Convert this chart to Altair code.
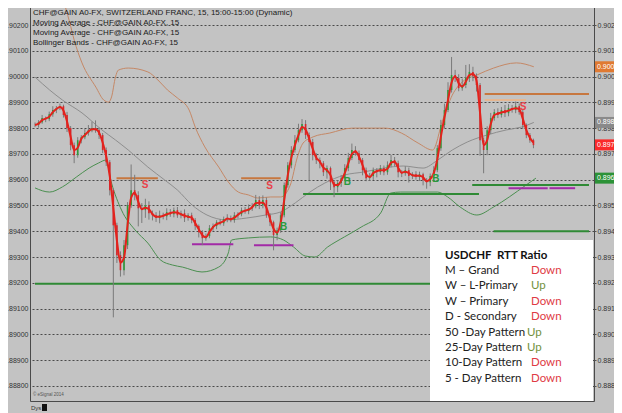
import altair as alt
import pandas as pd

# ---------------- data ----------------
closes = [
    0.89812, 0.89823, 0.89839, 0.89835, 0.89854, 0.89870, 0.89878, 0.89885, 0.89851, 0.89800,
    0.89734, 0.89695, 0.89753, 0.89765, 0.89781, 0.89792, 0.89800, 0.89792, 0.89773, 0.89715,
    0.89668, 0.89559, 0.89423, 0.89307, 0.89249, 0.89346, 0.89501, 0.89559, 0.89540, 0.89489,
    0.89482, 0.89501, 0.89470, 0.89462, 0.89451, 0.89462, 0.89458, 0.89474, 0.89466, 0.89482,
    0.89462, 0.89470, 0.89451, 0.89462, 0.89443, 0.89420, 0.89396, 0.89373, 0.89381, 0.89412,
    0.89420, 0.89435, 0.89431, 0.89447, 0.89451, 0.89443, 0.89462, 0.89466, 0.89482, 0.89478,
    0.89489, 0.89497, 0.89521, 0.89501, 0.89521, 0.89462, 0.89435, 0.89385, 0.89404, 0.89462,
    0.89579, 0.89656, 0.89715, 0.89753, 0.89792, 0.89816, 0.89773, 0.89746, 0.89695, 0.89676,
    0.89664, 0.89629, 0.89645, 0.89590, 0.89571, 0.89587, 0.89606, 0.89645, 0.89684, 0.89715,
    0.89703, 0.89676, 0.89637, 0.89606, 0.89614, 0.89637, 0.89629, 0.89645, 0.89629, 0.89656,
    0.89676, 0.89664, 0.89629, 0.89625, 0.89637, 0.89614, 0.89621, 0.89610, 0.89621, 0.89598,
    0.89590, 0.89614, 0.89637, 0.89722, 0.89812, 0.89870, 0.89948, 0.90006, 0.89994, 0.89955,
    0.89967, 0.89994, 0.90018, 0.90002, 0.89967, 0.89753, 0.89715, 0.89792, 0.89839, 0.89862,
    0.89851, 0.89870, 0.89858, 0.89878, 0.89870, 0.89885, 0.89862, 0.89812, 0.89773, 0.89753, 0.89734,
]
# wick extents above / below the candle body, in points (1e-5)
hi_ext = [
    10, 8, 12, 6, 10, 15, 8, 10, 6, 12,
    8, 10, 12, 8, 15, 20, 25, 30, 10, 8,
    10, 8, 6, 10, 15, 20, 12, 100, 60, 15,
    20, 25, 15, 10, 12, 18, 10, 15, 12, 10,
    12, 10, 15, 8, 10, 8, 6, 8, 10, 12,
    10, 8, 12, 10, 15, 10, 12, 8, 10, 12,
    15, 12, 20, 15, 18, 10, 8, 6, 10, 12,
    10, 12, 15, 20, 25, 19, 15, 10, 12, 8,
    10, 8, 10, 6, 8, 10, 12, 15, 20, 25,
    15, 10, 8, 10, 12, 10, 8, 12, 10, 15,
    20, 12, 10, 8, 15, 10, 8, 12, 10, 6,
    8, 10, 15, 12, 20, 25, 30, 70, 20, 15,
    25, 51, 30, 20, 10, 8, 10, 15, 20, 12,
    15, 12, 20, 15, 12, 18, 10, 8, 6, 8, 6,
]
lo_ext = [
    8, 10, 6, 12, 8, 10, 12, 8, 10, 15,
    20, 31, 10, 12, 8, 10, 8, 10, 15, 12,
    15, 20, 357, 30, 25, 20, 15, 10, 20, 70,
    50, 30, 25, 20, 15, 20, 12, 15, 10, 12,
    10, 12, 15, 10, 12, 15, 20, 27, 10, 8,
    10, 12, 8, 10, 12, 8, 10, 12, 8, 10,
    12, 10, 8, 15, 12, 10, 15, 59, 20, 10,
    8, 10, 12, 10, 8, 10, 15, 150, 20, 15,
    20, 15, 25, 30, 39, 20, 15, 10, 12, 8,
    10, 15, 20, 12, 10, 15, 20, 10, 12, 10,
    8, 12, 20, 15, 10, 25, 12, 10, 15, 20,
    25, 15, 10, 8, 10, 12, 8, 10, 15, 12,
    10, 12, 15, 20, 25, 60, 90, 20, 15, 10,
    12, 10, 15, 12, 10, 12, 10, 15, 12, 10, 12,
]

# slow moving average (grey)
ma_i = [0, 4.1, 7.7, 13.2, 18.8, 22.6, 26.2, 31.7, 36.4, 40.0, 44.1, 48.3, 53.8, 59.3, 64.8,
        69.0, 73.1, 77.2, 81.4, 86.9, 92.4, 97.9, 103.4, 109.0, 113.1, 117.2, 121.4, 126.9,
        132.4, 136.6, 140.1]
ma_v = [0.89998, 0.89948, 0.89909, 0.89859, 0.89793, 0.89754, 0.89715, 0.89649, 0.89599,
        0.89560, 0.89502, 0.89463, 0.89444, 0.89451, 0.89463, 0.89475, 0.89510, 0.89552,
        0.89587, 0.89618, 0.89630, 0.89645, 0.89653, 0.89645, 0.89676, 0.89715, 0.89746,
        0.89773, 0.89793, 0.89804, 0.89822]
# upper Bollinger band (orange)
up_i = [7.7, 9.7, 11.0, 13.2, 17.1, 19.3, 20.7, 21.5, 22.6, 23.4, 26.2, 31.7, 34.5, 37.2,
        40.0, 43.3, 45.0, 47.7, 51.6, 54.3, 57.1, 59.9, 62.6, 66.2, 69.0, 71.7, 73.7, 75.3,
        78.1, 82.8, 89.1, 98.5, 102.9, 107.6, 111.7, 114.5, 117.2, 120.0, 124.1, 128.8,
        135.2, 140.1]
up_v = [0.90309, 0.90212, 0.90142, 0.90053, 0.89959, 0.89909, 0.89901, 0.89921, 0.89998,
        0.90025, 0.90033, 0.90018, 0.89987, 0.89948, 0.89917, 0.89870, 0.89804, 0.89727,
        0.89649, 0.89591, 0.89552, 0.89541, 0.89529, 0.89533, 0.89533, 0.89579, 0.89688,
        0.89742, 0.89766, 0.89781, 0.89800, 0.89800, 0.89781, 0.89742, 0.89715, 0.89831,
        0.89928, 0.89979, 0.90006, 0.90033, 0.90053, 0.90038]
# lower Bollinger band (green)
lo_i = [0, 4.1, 7.7, 11.6, 15.2, 17.9, 19.9, 21.5, 24.3, 28.1, 31.7, 35.3, 38.6, 41.4, 46.9,
        51.6, 54.3, 55.2, 59.9, 66.2, 69.8, 72.6, 75.9, 78.6, 82.2, 86.9, 91.6, 97.1, 99.9,
        102.6, 109.8, 113.1, 115.9, 119.4, 124.1, 128.8, 133.2, 137.9, 140.7]
lo_v = [0.89568, 0.89552, 0.89572, 0.89610, 0.89645, 0.89665, 0.89676, 0.89587, 0.89482,
        0.89405, 0.89354, 0.89288, 0.89269, 0.89261, 0.89242, 0.89261, 0.89316, 0.89366,
        0.89374, 0.89378, 0.89366, 0.89339, 0.89304, 0.89300, 0.89339, 0.89378, 0.89416,
        0.89471, 0.89548, 0.89552, 0.89552, 0.89552, 0.89533, 0.89494, 0.89463, 0.89494,
        0.89533, 0.89579, 0.89606]

# horizontal levels
level_v = [0.89196, 0.89606, 0.89606, 0.89350, 0.89346, 0.89544, 0.89932, 0.89909,
           0.89579, 0.89567, 0.89567, 0.89400]
level_start = [0, 22.9, 57.9, 44.1, 61.5, 75.3, 126.3, 126.3, 122.8, 133.0, 144.5, 128.8]
level_end = [155.6, 34.5, 69.0, 55.7, 72.6, 124.7, 155.6, 137.9, 155.6, 144.0, 151.7, 155.6]
level_kind = ["green", "orange", "orange", "purple", "purple", "green", "orange", "tan",
              "green", "purple", "purple", "green"]

# buy / sell signals
sig_txt = ["S", "S", "S", "B", "B", "B"]
sig_i = [30.9, 65.9, 137.1, 69.8, 87.7, 112.6]
sig_v = [0.89579, 0.89575, 0.89882, 0.89416, 0.89590, 0.89603]

# right-hand value tags
tag_v = [0.90038, 0.89822, 0.89735, 0.89606]
tag_kind = ["upper", "ma", "last", "lower"]

# x ticks
tick_pos = [11.0, 43.6, 60.7, 84.7, 108.7, 133.0]
tick_lab = ["24", "26", "27", "12:00", "28", "12:00"]

header = ["CHF@GAIN A0-FX, SWITZERLAND FRANC, 15, 15:00-15:00 (Dynamic)",
          "Moving Average - CHF@GAIN A0-FX, 15",
          "Moving Average - CHF@GAIN A0-FX, 15",
          "Bollinger Bands - CHF@GAIN A0-FX, 15"]

rtt_title = "USDCHF\u00a0 RTT Ratio"
rtt_rows = ["M \u2013 Grand", "W \u2013 L-Primary", "W \u2013 Primary", "D - Secondary",
            "50 -Day Pattern", "25-Day Pattern", "10-Day Pattern", "\u00a05 - Day Pattern"]
rtt_status = ["Down", "Up", "Down", "Down", "Up", "Up", "Down", "Down"]

# ---------------- tables ----------------
n = len(closes)
opens = [closes[0]] + closes[:-1]
bars = pd.DataFrame({
    "i": list(range(n)),
    "open": opens,
    "close": closes,
    "high": [max(o, c) + h * 1e-5 for o, c, h in zip(opens, closes, hi_ext)],
    "low": [min(o, c) - l * 1e-5 for o, c, l in zip(opens, closes, lo_ext)],
})
lines = pd.concat([
    pd.DataFrame({"i": ma_i, "v": ma_v, "s": "ma"}),
    pd.DataFrame({"i": up_i, "v": up_v, "s": "upper"}),
    pd.DataFrame({"i": lo_i, "v": lo_v, "s": "lower"}),
])
levels = pd.DataFrame({"v": level_v, "a": level_start, "b": level_end, "k": level_kind})
sigs = pd.DataFrame({"t": sig_txt, "i": sig_i, "v": sig_v})
tags = pd.DataFrame({"v": tag_v, "k": tag_kind, "t": [f"{v:.5f}" for v in tag_v]})
one = pd.DataFrame({"a": [0]})

W, H = 564, 401
XS = alt.Scale(domain=[0, 155.6], nice=False, zero=False)
YS = alt.Scale(domain=[0.887415, 0.90297], nice=False, zero=False)
yvals = [round(0.888 + 0.001 * k, 3) for k in range(16)]

label_expr = ""
for k in range(len(tick_pos) - 1):
    mid = (tick_pos[k] + tick_pos[k + 1]) / 2
    label_expr += f"datum.value < {mid} ? '{tick_lab[k]}' : "
label_expr += f"'{tick_lab[-1]}'"

FONT = "Liberation Sans"
x_axis = alt.Axis(values=tick_pos, labelExpr=label_expr, grid=False, domain=False,
                  tickSize=3, tickColor="#555", labelFontSize=8, labelFontWeight="bold",
                  labelColor="#000", labelPadding=1, labelFont=FONT, title=None)
y_right = alt.Axis(orient="right", values=yvals, format=".5f", grid=True, gridDash=[2, 2],
                   gridColor="#4a4a4a", gridWidth=1, domain=False, tickSize=2,
                   tickColor="#555", labelFontSize=7, labelColor="#333", labelFont=FONT,
                   labelPadding=1, title=None)
y_left = alt.Axis(orient="left", values=yvals, format=".5f", grid=False, domain=False,
                  tickSize=0, labelFontSize=7, labelColor="#333", labelFont=FONT,
                  labelPadding=2, title=None)

wicks = alt.Chart(bars).mark_rule(color="#7a7a7a", strokeWidth=1).encode(
    x=alt.X("i:Q", scale=XS, axis=x_axis),
    y=alt.Y("low:Q", scale=YS, axis=y_right),
    y2="high:Q",
)
bodies = alt.Chart(bars).mark_bar(size=1.6).encode(
    x=alt.X("i:Q", scale=XS, axis=None),
    y=alt.Y("open:Q", scale=YS, axis=y_left),
    y2="close:Q",
    color=alt.condition("datum.close >= datum.open", alt.value("#2f9a3a"), alt.value("#d8262a")),
)
fast_ma = alt.Chart(bars).transform_window(
    ma="mean(close)", frame=[-1, 0]
).mark_line(color="#e3221c", strokeWidth=2, interpolate="monotone").encode(
    x=alt.X("i:Q", scale=XS, axis=None),
    y=alt.Y("ma:Q", scale=YS, axis=None),
)
band_lines = alt.Chart(lines).mark_line(strokeWidth=1, interpolate="monotone", clip=True).encode(
    x=alt.X("i:Q", scale=XS, axis=None),
    y=alt.Y("v:Q", scale=YS, axis=None),
    detail="s:N",
    color=alt.Color("s:N", scale=alt.Scale(domain=["ma", "upper", "lower"],
                                           range=["#8e8e8e", "#c58866", "#4b8f50"]),
                    legend=None),
)
level_rules = alt.Chart(levels).mark_rule(strokeWidth=2).encode(
    x=alt.X("a:Q", scale=XS, axis=None),
    x2="b:Q",
    y=alt.Y("v:Q", scale=YS, axis=None),
    color=alt.Color("k:N", scale=alt.Scale(domain=["green", "orange", "purple", "tan"],
                                           range=["#2f8a35", "#c7773f", "#a22aa6", "#e6b792"]),
                    legend=None),
)
signals = alt.Chart(sigs).mark_text(fontSize=10, font=FONT, fontWeight="bold").encode(
    x=alt.X("i:Q", scale=XS, axis=None),
    y=alt.Y("v:Q", scale=YS, axis=None),
    text="t:N",
    color=alt.Color("t:N", scale=alt.Scale(domain=["S", "B"], range=["#e8414a", "#2c9a3c"]),
                    legend=None),
)
tag_colors = alt.Scale(domain=["upper", "ma", "last", "lower"],
                       range=["#e07a32", "#8a8a8a", "#fa2a2a", "#2c9237"])
tag_bg = alt.Chart(tags).mark_rule(strokeWidth=11).encode(
    x=alt.value(W + 1), x2=alt.value(W + 30),
    y=alt.Y("v:Q", scale=YS, axis=None),
    color=alt.Color("k:N", scale=tag_colors, legend=None),
)
tag_txt = alt.Chart(tags).mark_text(align="left", baseline="middle", fontSize=7, font=FONT,
                                    color="white").encode(
    x=alt.value(W + 3),
    y=alt.Y("v:Q", scale=YS, axis=None),
    text="t:N",
)
head = alt.Chart(one).mark_text(align="left", baseline="middle", fontSize=8,
                                font=FONT, color="#1a1a1a",
                                lineHeight=10.2).encode(
    x=alt.value(3), y=alt.value(12.5), text=alt.value(header))

box = alt.Chart(one).mark_rect(color="white").encode(
    x=alt.value(400), x2=alt.value(563), y=alt.value(240), y2=alt.value(H))
layers = [band_lines, level_rules, wicks, bodies, fast_ma, signals, tag_bg, tag_txt, head, box]
LFS = 11.5
layers.append(alt.Chart(one).mark_text(align="left", baseline="middle", fontSize=LFS,
                                       font="Lato", fontWeight="bold", color="#111").encode(
    x=alt.value(415), y=alt.value(256), text=alt.value(rtt_title)))
for k, (lab, st) in enumerate(zip(rtt_rows, rtt_status)):
    yy = 271 + 15.4 * k
    layers.append(alt.Chart(one).mark_text(align="left", baseline="middle", fontSize=LFS,
                                           font="Lato", color="#222").encode(
        x=alt.value(415), y=alt.value(yy), text=alt.value(lab)))
    layers.append(alt.Chart(one).mark_text(align="left", baseline="middle", fontSize=LFS,
                                           font="Lato",
                                           color="#e03a44" if st == "Down" else "#72913c").encode(
        x=alt.value(501 if st == "Down" or k < 4 else 497), y=alt.value(yy), text=alt.value(st)))

layers.append(alt.Chart(one).mark_text(align="left", baseline="middle", fontSize=4.5,
                                       font=FONT, color="#555").encode(
    x=alt.value(3), y=alt.value(395), text=alt.value("\u00a9 eSignal 2014")))
layers.append(alt.Chart(one).mark_text(align="left", baseline="middle", fontSize=6,
                                       font=FONT, color="#333").encode(
    x=alt.value(1), y=alt.value(408), text=alt.value("Dys")))
layers.append(alt.Chart(one).mark_rect(color="#111").encode(
    x=alt.value(12), x2=alt.value(17), y=alt.value(404), y2=alt.value(411)))

chart = alt.layer(*layers).resolve_axis(y="independent").resolve_scale(
    color="independent"
).properties(
    width=W, height=H,
    padding={"left": 22, "top": -8, "right": 20, "bottom": 12},
    autosize=alt.AutoSizeParams(type="none"),
    background="#c3c3c3",
).configure_view(stroke="#4a4a4a", strokeWidth=1)

chart.save("out.html", embed_options={"renderer": "svg", "actions": False})
